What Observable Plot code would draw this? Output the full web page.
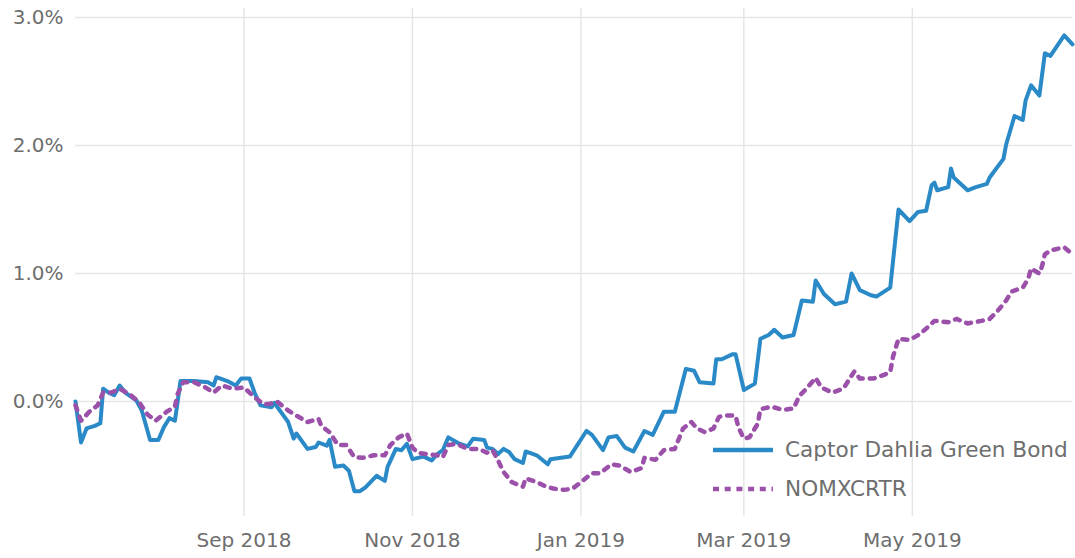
<!DOCTYPE html>
<html>
<head>
<meta charset="utf-8">
<script src="https://cdn.jsdelivr.net/npm/d3@7"></script>
<script src="https://cdn.jsdelivr.net/npm/@observablehq/plot@0.6"></script>
<style>
  html, body { margin: 0; padding: 0; background: #fff; }
  #wrap { position: relative; width: 1075px; height: 558px; }
  #legend { position: absolute; left: 713px; top: 430px; font-family: "DejaVu Sans", sans-serif; font-size: 21.6px; color: #6e6e6e; }
  .row { display: flex; align-items: center; height: 39px; }
  .row svg { margin-right: 12px; }
</style>
</head>
<body>
<div id="wrap"><div id="legend"></div></div>
<script>
// ---- data (cumulative return, %) ----
const seriesNames = ["Captor Dahlia Green Bond", "NOMXCRTR"];

const captorDates = [
  "2018-07-02","2018-07-04","2018-07-06","2018-07-09","2018-07-11","2018-07-12","2018-07-14","2018-07-16",
  "2018-07-18","2018-07-20","2018-07-24","2018-07-26","2018-07-29","2018-08-01","2018-08-03","2018-08-05",
  "2018-08-07","2018-08-08","2018-08-09","2018-08-14","2018-08-19","2018-08-21","2018-08-22","2018-08-26",
  "2018-08-29","2018-08-31","2018-09-03","2018-09-05","2018-09-07","2018-09-11","2018-09-12","2018-09-17",
  "2018-09-19","2018-09-20","2018-09-24","2018-09-27","2018-09-28","2018-10-01","2018-10-02","2018-10-04",
  "2018-10-07","2018-10-09","2018-10-11","2018-10-13","2018-10-15","2018-10-19","2018-10-22","2018-10-23",
  "2018-10-26","2018-10-28","2018-10-30","2018-11-01","2018-11-05","2018-11-08","2018-11-10","2018-11-12",
  "2018-11-14","2018-11-18","2018-11-21","2018-11-23","2018-11-27","2018-11-28","2018-11-30","2018-12-02",
  "2018-12-04","2018-12-06","2018-12-08","2018-12-11","2018-12-12","2018-12-16","2018-12-20","2018-12-21",
  "2018-12-28","2019-01-03","2019-01-05","2019-01-09","2019-01-11","2019-01-14","2019-01-17","2019-01-20",
  "2019-01-24","2019-01-27","2019-01-31","2019-02-04","2019-02-08","2019-02-11","2019-02-13","2019-02-18",
  "2019-02-19","2019-02-21","2019-02-25","2019-02-26","2019-03-01","2019-03-05","2019-03-07","2019-03-10",
  "2019-03-12","2019-03-15","2019-03-19","2019-03-22","2019-03-26","2019-03-27","2019-03-30","2019-04-03",
  "2019-04-07","2019-04-09","2019-04-12","2019-04-16","2019-04-18","2019-04-23","2019-04-26","2019-04-30",
  "2019-05-03","2019-05-06","2019-05-08","2019-05-09","2019-05-10","2019-05-14","2019-05-15","2019-05-16",
  "2019-05-21","2019-05-24","2019-05-28","2019-05-29","2019-06-03","2019-06-04","2019-06-07","2019-06-10",
  "2019-06-11","2019-06-13","2019-06-16","2019-06-18","2019-06-20","2019-06-25","2019-06-28"
];
const captorValues = [
  0.00,-0.32,-0.21,-0.19,-0.17,0.10,0.07,0.05,
  0.125,0.07,0.01,-0.07,-0.30,-0.30,-0.20,-0.13,
  -0.15,0.00,0.16,0.16,0.15,0.125,0.19,0.16,
  0.125,0.18,0.18,0.06,-0.03,-0.045,-0.01,-0.16,
  -0.29,-0.25,-0.37,-0.355,-0.32,-0.345,-0.30,-0.51,
  -0.50,-0.54,-0.70,-0.70,-0.67,-0.58,-0.62,-0.51,
  -0.37,-0.38,-0.33,-0.45,-0.43,-0.46,-0.41,-0.38,
  -0.28,-0.33,-0.35,-0.29,-0.30,-0.36,-0.37,-0.41,
  -0.37,-0.395,-0.45,-0.48,-0.39,-0.42,-0.49,-0.45,
  -0.43,-0.23,-0.26,-0.38,-0.28,-0.27,-0.36,-0.39,
  -0.23,-0.26,-0.08,-0.08,0.255,0.24,0.15,0.14,
  0.33,0.33,0.37,0.37,0.09,0.14,0.49,0.52,
  0.56,0.50,0.52,0.79,0.78,0.945,0.84,0.76,
  0.78,1.00,0.87,0.83,0.82,0.89,1.50,1.41,
  1.48,1.49,1.69,1.71,1.65,1.675,1.82,1.75,
  1.65,1.675,1.70,1.75,1.895,2.01,2.23,2.20,
  2.35,2.47,2.39,2.72,2.70,2.86,2.79
];

const nomxDates = [
  "2018-07-02","2018-07-04","2018-07-07","2018-07-10","2018-07-12","2018-07-15","2018-07-18","2018-07-22",
  "2018-07-25","2018-07-28","2018-07-31","2018-08-04","2018-08-07","2018-08-08","2018-08-10","2018-08-14",
  "2018-08-18","2018-08-21","2018-08-24","2018-08-28","2018-09-01","2018-09-05","2018-09-08","2018-09-10",
  "2018-09-13","2018-09-17","2018-09-20","2018-09-24","2018-09-28","2018-09-29","2018-10-02","2018-10-05",
  "2018-10-08","2018-10-11","2018-10-14","2018-10-18","2018-10-22","2018-10-24","2018-10-27","2018-10-30",
  "2018-11-01","2018-11-03","2018-11-06","2018-11-10","2018-11-12","2018-11-14","2018-11-17","2018-11-21",
  "2018-11-25","2018-11-28","2018-11-30","2018-12-02","2018-12-04","2018-12-07","2018-12-11","2018-12-12",
  "2018-12-16","2018-12-19","2018-12-22","2018-12-26","2018-12-29","2019-01-01","2019-01-05","2019-01-08",
  "2019-01-12","2019-01-15","2019-01-19","2019-01-23","2019-01-24","2019-01-28","2019-01-31","2019-02-04",
  "2019-02-07","2019-02-10","2019-02-12","2019-02-15","2019-02-18","2019-02-20","2019-02-22","2019-02-26",
  "2019-02-27","2019-03-01","2019-03-03","2019-03-06","2019-03-07","2019-03-11","2019-03-15","2019-03-19",
  "2019-03-21","2019-03-24","2019-03-27","2019-03-29","2019-04-02","2019-04-06","2019-04-10","2019-04-12",
  "2019-04-17","2019-04-21","2019-04-23","2019-04-24","2019-04-26","2019-04-30","2019-05-04","2019-05-09",
  "2019-05-14","2019-05-17","2019-05-21","2019-05-26","2019-05-29","2019-06-01","2019-06-04","2019-06-06",
  "2019-06-10","2019-06-12","2019-06-13","2019-06-16","2019-06-17","2019-06-18","2019-06-20","2019-06-25",
  "2019-06-28"
];
const nomxValues = [
  -0.03,-0.15,-0.08,-0.03,0.07,0.07,0.10,0.05,
  -0.005,-0.10,-0.15,-0.08,-0.04,0.06,0.15,0.15,
  0.11,0.07,0.125,0.10,0.11,0.03,-0.02,-0.02,
  0.00,-0.07,-0.11,-0.16,-0.135,-0.19,-0.24,-0.34,
  -0.34,-0.435,-0.44,-0.42,-0.42,-0.34,-0.28,-0.25,
  -0.36,-0.40,-0.41,-0.42,-0.435,-0.34,-0.33,-0.37,
  -0.37,-0.40,-0.38,-0.46,-0.55,-0.63,-0.665,-0.60,
  -0.63,-0.66,-0.68,-0.69,-0.68,-0.63,-0.56,-0.56,
  -0.49,-0.50,-0.55,-0.52,-0.44,-0.455,-0.38,-0.37,
  -0.21,-0.16,-0.21,-0.24,-0.21,-0.12,-0.11,-0.11,
  -0.20,-0.29,-0.28,-0.175,-0.06,-0.04,-0.065,-0.055,
  0.04,0.11,0.185,0.11,0.07,0.10,0.235,0.18,
  0.18,0.21,0.23,0.35,0.49,0.48,0.53,0.63,
  0.62,0.645,0.61,0.63,0.645,0.71,0.79,0.86,
  0.89,0.96,1.04,1.00,1.06,1.15,1.18,1.205,
  1.15
];

const yTicks = [0, 1, 2, 3];
const xTicks = ["2018-09-01", "2018-11-01", "2019-01-01", "2019-03-01", "2019-05-01"];

// ---- build tables ----
const captor = captorDates.map((d, i) => ({date: new Date(d), value: captorValues[i], series: seriesNames[0]}));
const nomx = nomxDates.map((d, i) => ({date: new Date(d), value: nomxValues[i], series: seriesNames[1]}));
const xTickDates = xTicks.map(d => new Date(d));

const BLUE = "#2a8ac7";
const PURPLE = "#9b50a9";
const FONT = "DejaVu Sans, sans-serif";

const chart = Plot.plot({
  width: 1075,
  height: 558,
  marginLeft: 75,
  marginRight: 3,
  marginTop: 8,
  marginBottom: 42,
  style: {fontFamily: FONT, fontSize: "20px", color: "#6e6e6e", background: "#fff"},
  x: {type: "utc", domain: [captor[0].date, captor[captor.length - 1].date]},
  y: {domain: [-0.898, 3.07]},
  marks: [
    Plot.gridX(xTickDates, {stroke: "#e6e6e6", strokeOpacity: 1, strokeWidth: 1.5}),
    Plot.gridY(yTicks, {stroke: "#e6e6e6", strokeOpacity: 1, strokeWidth: 1.5}),
    Plot.axisX(xTickDates, {tickSize: 0, tickPadding: 16, tickFormat: d3.utcFormat("%b %Y"), label: null, fontSize: 20, fill: "#6e6e6e"}),
    Plot.axisY(yTicks, {tickSize: 0, tickPadding: 12, tickFormat: d => d.toFixed(1) + "%", label: null, fontSize: 20, fill: "#6e6e6e"}),
    Plot.line(captor, {x: "date", y: "value", stroke: BLUE, strokeWidth: 4, strokeLinejoin: "round"}),
    Plot.line(nomx, {x: "date", y: "value", stroke: PURPLE, strokeWidth: 4.5, strokeDasharray: "5,7"})
  ]
});
document.getElementById("wrap").prepend(chart);

// ---- legend overlay ----
const legend = document.getElementById("legend");
const styles = [
  {stroke: BLUE, dash: null},
  {stroke: PURPLE, dash: "6,5.7"}
];
seriesNames.forEach((name, i) => {
  const row = document.createElement("div");
  row.className = "row";
  const s = styles[i];
  row.innerHTML = `<svg width="60" height="8"><line x1="0" x2="60" y1="4" y2="4" stroke="${s.stroke}" stroke-width="4.5" ${s.dash ? `stroke-dasharray="${s.dash}"` : ""}/></svg><span>${name}</span>`;
  legend.appendChild(row);
});
</script>
</body>
</html>
